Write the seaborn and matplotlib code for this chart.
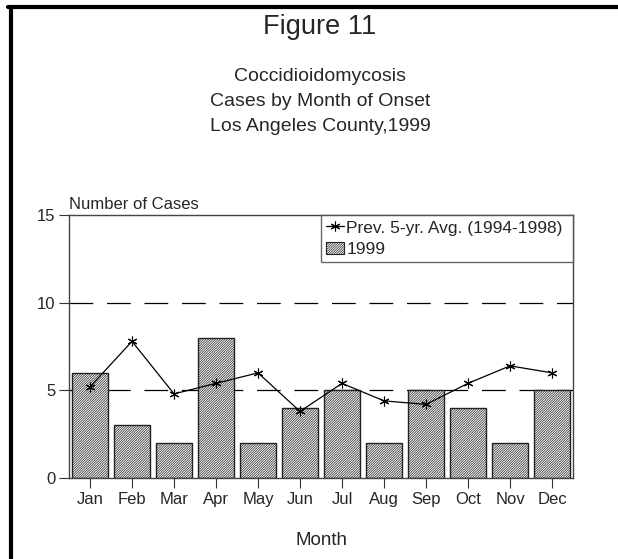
import numpy as np
import pandas as pd
import seaborn as sns
import matplotlib.pyplot as plt
from matplotlib.lines import Line2D
from matplotlib.patches import Patch

months = ['Jan', 'Feb', 'Mar', 'Apr', 'May', 'Jun', 'Jul', 'Aug', 'Sep', 'Oct', 'Nov', 'Dec']
cases_1999 = [6, 3, 2, 8, 2, 4, 5, 2, 5, 4, 2, 5]
prev_avg = [5.2, 7.8, 4.8, 5.4, 6.0, 3.8, 5.4, 4.4, 4.2, 5.4, 6.4, 6.0]
y_ticks = [0, 5, 10, 15]

sns.set_theme(style='white')
plt.rcParams['font.family'] = ['Liberation Sans', 'DejaVu Sans']
plt.rcParams['hatch.linewidth'] = 0.5
plt.rcParams['hatch.color'] = '#222222'

HATCH = '/' * 14

df = pd.DataFrame({'Month': months, 'Cases': cases_1999, 'Avg': prev_avg})

fig = plt.figure(figsize=(6.18, 5.59), dpi=100)
ax = fig.add_axes([0.1117, 0.145, 0.8155, 0.47])

sns.barplot(data=df, x='Month', y='Cases', order=months, color='white',
            width=0.86, edgecolor='#222222', linewidth=1.0,
            ax=ax, zorder=2)
for bar in ax.patches:
    bar.set_hatch(HATCH)

sns.lineplot(data=df, x='Month', y='Avg', sort=False, color='black', linewidth=0.9,
             marker=(6, 2, 0), markersize=7, markeredgewidth=0.8,
             markeredgecolor='black', ax=ax, zorder=3)

for yv in [5, 10]:
    ax.axhline(yv, color='black', linewidth=0.9, dashes=(19, 11), zorder=1)

ax.set_xlim(-0.5, 11.5)
ax.set_ylim(0, 15)
ax.set_yticks(y_ticks)
ax.set_xlabel('Month', fontsize=13.5, labelpad=18)
ax.set_ylabel('')
ax.tick_params(axis='both', which='both', direction='out', length=7, width=0.8,
               color='#333333', labelsize=12, left=True, bottom=True, pad=3)
for s in ax.spines.values():
    s.set_visible(True)
    s.set_color('#444444')
    s.set_linewidth(1.0)

ax.text(0.0, 1.012, 'Number of Cases', transform=ax.transAxes, fontsize=12,
        ha='left', va='bottom')

handles = [
    Line2D([], [], color='black', linewidth=0.9, marker=(6, 2, 0), markersize=7,
           markeredgewidth=0.8),
    Patch(facecolor='white', edgecolor='#222222', hatch=HATCH, linewidth=0.8),
]
leg = ax.legend(handles, ['Prev. 5-yr. Avg. (1994-1998)', '1999'],
                loc='upper right', bbox_to_anchor=(0.5, 0.8, 0.5, 0.2), mode='expand',
                fontsize=12.5, frameon=True, fancybox=False, borderaxespad=0,
                borderpad=0.3, handlelength=1.0, handleheight=0.7,
                handletextpad=0.15, labelspacing=0.35)
leg.get_frame().set_edgecolor('#444444')
leg.get_frame().set_linewidth(1.0)

fig.text(0.518, 0.952, 'Figure 11', fontsize=19.5, ha='center', va='center')
fig.text(0.518, 0.863, 'Coccidioidomycosis', fontsize=14, ha='center', va='center')
fig.text(0.518, 0.818, 'Cases by Month of Onset', fontsize=14, ha='center', va='center')
fig.text(0.518, 0.773, 'Los Angeles County,1999', fontsize=14, ha='center', va='center')

# outer frame: top and left thick black lines
fig.add_artist(Line2D([0.013, 1.0], [0.9875, 0.9875], color='black', linewidth=3,
                      transform=fig.transFigure))
fig.add_artist(Line2D([0.0175, 0.0175], [0.0, 0.9875], color='black', linewidth=3,
                      transform=fig.transFigure))

fig.savefig('out.png', dpi=100)
